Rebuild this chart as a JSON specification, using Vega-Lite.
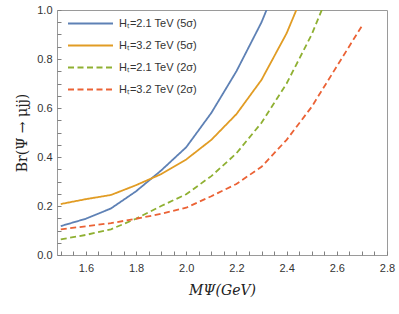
{
  "$schema": "https://vega.github.io/schema/vega-lite/v6.json",
  "width": 330,
  "height": 245,
  "autosize": {"type": "none"},
  "padding": {"left": 57, "top": 10, "right": 12, "bottom": 59},
  "config": {
    "view": {"stroke": "#9a9a9a", "strokeWidth": 1}
  },
  "data": {
    "values": [
      {"series": "A", "m": 1.5, "br": 0.118},
      {"series": "A", "m": 1.6, "br": 0.148},
      {"series": "A", "m": 1.7, "br": 0.19},
      {"series": "A", "m": 1.8, "br": 0.26},
      {"series": "A", "m": 1.9, "br": 0.345},
      {"series": "A", "m": 2.0, "br": 0.44},
      {"series": "A", "m": 2.1, "br": 0.58},
      {"series": "A", "m": 2.2, "br": 0.75},
      {"series": "A", "m": 2.3, "br": 0.95},
      {"series": "A", "m": 2.4, "br": 1.2},
      {"series": "B", "m": 1.5, "br": 0.208},
      {"series": "B", "m": 1.6, "br": 0.228},
      {"series": "B", "m": 1.7, "br": 0.245},
      {"series": "B", "m": 1.8, "br": 0.285},
      {"series": "B", "m": 1.9, "br": 0.33},
      {"series": "B", "m": 2.0, "br": 0.39},
      {"series": "B", "m": 2.1, "br": 0.47},
      {"series": "B", "m": 2.2, "br": 0.575},
      {"series": "B", "m": 2.3, "br": 0.715},
      {"series": "B", "m": 2.4, "br": 0.905},
      {"series": "B", "m": 2.5, "br": 1.15},
      {"series": "C", "m": 1.5, "br": 0.064},
      {"series": "C", "m": 1.6, "br": 0.082},
      {"series": "C", "m": 1.7, "br": 0.105},
      {"series": "C", "m": 1.8, "br": 0.148},
      {"series": "C", "m": 1.9, "br": 0.2},
      {"series": "C", "m": 2.0, "br": 0.248},
      {"series": "C", "m": 2.1, "br": 0.322},
      {"series": "C", "m": 2.2, "br": 0.415},
      {"series": "C", "m": 2.3, "br": 0.54},
      {"series": "C", "m": 2.4, "br": 0.7},
      {"series": "C", "m": 2.5, "br": 0.9},
      {"series": "C", "m": 2.6, "br": 1.15},
      {"series": "D", "m": 1.5, "br": 0.105},
      {"series": "D", "m": 1.6, "br": 0.117},
      {"series": "D", "m": 1.7, "br": 0.13},
      {"series": "D", "m": 1.8, "br": 0.148},
      {"series": "D", "m": 1.9, "br": 0.168},
      {"series": "D", "m": 2.0, "br": 0.193},
      {"series": "D", "m": 2.1, "br": 0.24},
      {"series": "D", "m": 2.2, "br": 0.29},
      {"series": "D", "m": 2.3, "br": 0.36},
      {"series": "D", "m": 2.4, "br": 0.47},
      {"series": "D", "m": 2.5, "br": 0.605},
      {"series": "D", "m": 2.6, "br": 0.77},
      {"series": "D", "m": 2.7, "br": 0.935}
    ]
  },
  "mark": {"type": "line", "clip": true, "strokeWidth": 1.8},
  "encoding": {
    "x": {
      "field": "m", "type": "quantitative",
      "scale": {"domain": [1.485, 2.8], "nice": false, "zero": false},
      "axis": {
        "title": "MΨ(GeV)",
        "titleFont": "DejaVu Serif",
        "titleFontSize": 14,
        "titleFontWeight": "normal",
        "titleFontStyle": "italic",
        "titleColor": "#222222",
        "titlePadding": 10,
        "grid": false,
        "domain": false,
        "values": [1.5,1.55,1.6,1.65,1.7,1.75,1.8,1.85,1.9,1.95,2.0,2.05,2.1,2.15,2.2,2.25,2.3,2.35,2.4,2.45,2.5,2.55,2.6,2.65,2.7,2.75,2.8],
        "labelExpr": "round(datum.value*20)%4==0 ? format(datum.value,'.1f') : ''",
        "labelFont": "Liberation Sans",
        "labelFontSize": 11,
        "labelColor": "#333333",
        "tickColor": "#808080",
        "tickSize": -4,
        "labelPadding": 11,
        "labelFlush": false,
        "labelOverlap": false
      }
    },
    "y": {
      "field": "br", "type": "quantitative",
      "scale": {"domain": [0, 1], "nice": false},
      "axis": {
        "title": "Br(Ψ → μjj)",
        "titleFont": "DejaVu Serif",
        "titleFontSize": 14,
        "titleFontWeight": "normal",
        "titleColor": "#222222",
        "titlePadding": 7,
        "grid": false,
        "domain": false,
        "values": [0,0.05,0.1,0.15,0.2,0.25,0.3,0.35,0.4,0.45,0.5,0.55,0.6,0.65,0.7,0.75,0.8,0.85,0.9,0.95,1.0],
        "labelExpr": "round(datum.value*20)%4==0 ? format(datum.value,'.1f') : ''",
        "labelFont": "Liberation Sans",
        "labelFontSize": 11,
        "labelColor": "#333333",
        "tickColor": "#808080",
        "tickSize": -4,
        "labelPadding": 9,
        "labelFlush": false,
        "labelOverlap": false
      }
    },
    "color": {
      "field": "series", "type": "nominal",
      "scale": {"domain": ["A","B","C","D"], "range": ["#5E81B5","#E19C24","#8FB032","#EB6235"]},
      "legend": {
        "title": null,
        "orient": "none",
        "legendX": 28,
        "legendY": 8,
        "symbolType": "M-5,0H5",
        "symbolSize": 81,
        "symbolStrokeWidth": 1.8,
        "labelOffset": 23,
        "rowPadding": 10,
        "labelFont": "Liberation Sans",
        "labelFontSize": 11,
        "labelColor": "#333333",
        "labelExpr": "datum.value=='A' ? 'Hₜ=2.1 TeV (5σ)' : datum.value=='B' ? 'Hₜ=3.2 TeV (5σ)' : datum.value=='C' ? 'Hₜ=2.1 TeV (2σ)' : 'Hₜ=3.2 TeV (2σ)'"
      }
    },
    "strokeDash": {
      "field": "series", "type": "nominal",
      "scale": {"domain": ["A","B","C","D"], "range": [[1,0],[1,0],[6,3.5],[6,3.5]]},
      "legend": null
    }
  }
}
